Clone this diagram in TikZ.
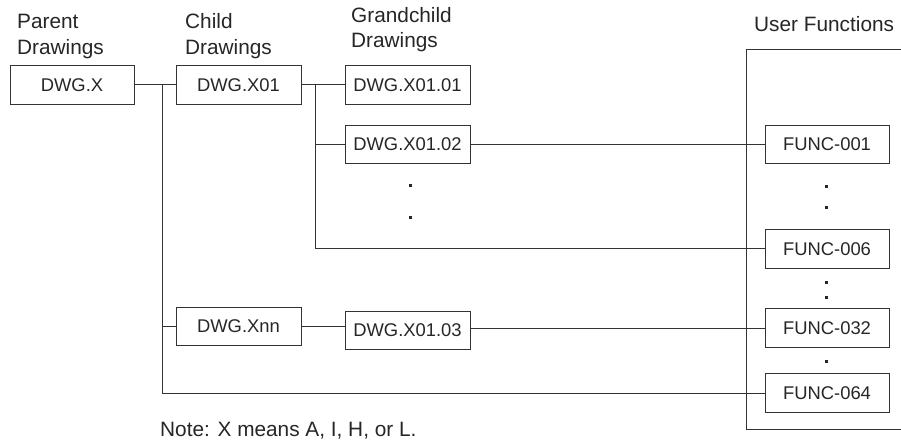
\documentclass[tikz,border=0pt]{standalone}
\usepackage{fontspec}
\setmainfont{Liberation Sans}
\begin{document}
\begin{tikzpicture}[x=1pt,y=-1pt,
  every node/.style={text=black!85},
  dwg/.style={draw=black!80, line width=1pt, minimum width=125pt, minimum height=38.5pt, inner sep=0pt, font=\fontsize{18.4}{20}\selectfont},
  hdr/.style={anchor=base west, inner sep=0pt, font=\fontsize{20.8}{25}\selectfont},
  conn/.style={draw=black!80, line width=1pt},
  dotm/.style={fill=black!85, draw=none, minimum size=3pt, inner sep=0pt}]
\useasboundingbox (0,0) rectangle (901,443);
% headers
\node[hdr] (hp1) at (17,29) {Parent};
\node[hdr] (hp2) at (17,55) {Drawings};
\node[hdr] (hc1) at (185,29) {Child};
\node[hdr] (hc2) at (185,55) {Drawings};
\node[hdr] (hg1) at (351,23) {Grandchild};
\node[hdr] (hg2) at (351,48) {Drawings};
\node[hdr] (hu) at (754,32) {User Functions};
\node[hdr] (note) at (160,436.5) {Note: X means A, I, H, or L.};
% user function frame
\draw[conn] (901,50) -- (746,50) -- (746,429) -- (901,429);
% boxes
\node[dwg, minimum width=124pt] (x) at (72,85) {DWG.X};
\node[dwg] (x01) at (238.5,85) {DWG.X01};
\node[dwg] (x0101) at (407.5,85) {DWG.X01.01};
\node[dwg] (x0102) at (407.5,144.5) {DWG.X01.02};
\node[dwg] (xnn) at (238.5,326.5) {DWG.Xnn};
\node[dwg] (x0103) at (407.5,330.5) {DWG.X01.03};
\node[dwg, minimum width=124pt] (f001) at (827,144.5) {FUNC-001};
\node[dwg, minimum width=124pt] (f006) at (827,249) {FUNC-006};
\node[dwg, minimum width=124pt] (f032) at (827,328) {FUNC-032};
\node[dwg, minimum width=124pt] (f064) at (827,393) {FUNC-064};
% junctions
\coordinate (j1) at (162,85);
\coordinate (j2) at (315,85);
% connectors
\draw[conn] (x.east) -- (x01.west);
\draw[conn] (j1) |- (f064.west);
\draw[conn] (j1 |- xnn.west) -- (xnn.west);
\draw[conn] (x01.east) -- (x0101.west);
\draw[conn] (j2) |- (f006.west);
\draw[conn] (j2 |- x0102.west) -- (x0102.west);
\draw[conn] (x0102.east) -- (f001.west);
\draw[conn] (xnn.east) -- (xnn.east -| x0103.west);
\draw[conn] (x0103.east |- f032.west) -- (f032.west);
% dots
\node[dotm] (d1) at (410,186) {};
\node[dotm] (d2) at (410,218) {};
\node[dotm] (d3) at (826,187) {};
\node[dotm] (d4) at (826,208) {};
\node[dotm] (d5) at (826,283) {};
\node[dotm] (d6) at (826,297) {};
\node[dotm] (d7) at (826,361) {};
\end{tikzpicture}
\end{document}
